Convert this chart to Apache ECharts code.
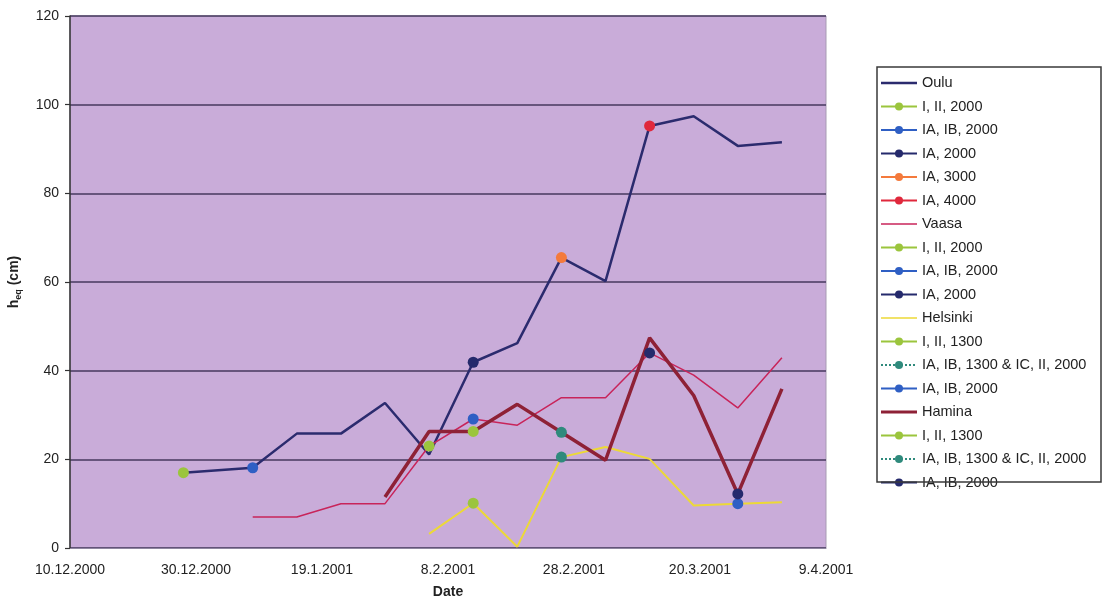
<!DOCTYPE html>
<html>
<head>
<meta charset="utf-8">
<script src="https://cdn.jsdelivr.net/npm/echarts@6/dist/echarts.min.js"></script>
<style>
html,body{margin:0;padding:0;background:#ffffff;}
#c{width:1102px;height:609px;}
</style>
</head>
<body>
<div id="c"></div>
<script>
// ---------- data (dates as d.m.yyyy) ----------
const xTickLabels = ['10.12.2000','30.12.2000','19.1.2001','8.2.2001','28.2.2001','20.3.2001','9.4.2001'];
const yTickValues = [0, 20, 40, 60, 80, 100, 120];

const ouluDates  = ['28.12.2000','8.1.2001','15.1.2001','22.1.2001','29.1.2001','5.2.2001','12.2.2001','19.2.2001','26.2.2001','5.3.2001','12.3.2001','19.3.2001','26.3.2001','2.4.2001'];
const ouluValues = [17.0, 18.1, 25.8, 25.8, 32.7, 21.1, 41.9, 46.2, 65.5, 60.2, 95.2, 97.4, 90.7, 91.5];

const vaasaDates  = ['8.1.2001','15.1.2001','22.1.2001','29.1.2001','5.2.2001','12.2.2001','19.2.2001','26.2.2001','5.3.2001','12.3.2001','19.3.2001','26.3.2001','2.4.2001'];
const vaasaValues = [7.0, 7.0, 10.0, 10.0, 23.0, 29.1, 27.7, 33.9, 33.9, 44.0, 39.0, 31.6, 42.9];

const helsinkiDates  = ['5.2.2001','12.2.2001','19.2.2001','26.2.2001','5.3.2001','12.3.2001','19.3.2001','26.3.2001','2.4.2001'];
const helsinkiValues = [3.2, 10.1, 0.3, 20.5, 22.8, 20.1, 9.6, 10.0, 10.3];

const haminaDates  = ['29.1.2001','5.2.2001','12.2.2001','19.2.2001','26.2.2001','5.3.2001','12.3.2001','19.3.2001','26.3.2001','2.4.2001'];
const haminaValues = [11.5, 26.3, 26.3, 32.4, 26.1, 19.8, 47.4, 34.4, 12.2, 35.9];

// ship-class observation points
const ouluI_II_2000_Dates   = ['28.12.2000'];  const ouluI_II_2000_Values   = [17.0];
const ouluIA_IB_2000_Dates  = ['8.1.2001'];    const ouluIA_IB_2000_Values  = [18.1];
const ouluIA_2000_Dates     = ['12.2.2001'];   const ouluIA_2000_Values     = [41.9];
const ouluIA_3000_Dates     = ['26.2.2001'];   const ouluIA_3000_Values     = [65.5];
const ouluIA_4000_Dates     = ['12.3.2001'];   const ouluIA_4000_Values     = [95.2];
const vaasaI_II_2000_Dates  = ['5.2.2001'];    const vaasaI_II_2000_Values  = [23.0];
const vaasaIA_IB_2000_Dates = ['12.2.2001'];   const vaasaIA_IB_2000_Values = [29.1];
const vaasaIA_2000_Dates    = ['12.3.2001'];   const vaasaIA_2000_Values    = [44.0];
const helI_II_1300_Dates    = ['12.2.2001'];   const helI_II_1300_Values    = [10.1];
const helMixed_Dates        = ['26.2.2001'];   const helMixed_Values        = [20.5];
const helIA_IB_2000_Dates   = ['26.3.2001'];   const helIA_IB_2000_Values   = [10.0];
const hamI_II_1300_Dates    = ['12.2.2001'];   const hamI_II_1300_Values    = [26.3];
const hamMixed_Dates        = ['26.2.2001'];   const hamMixed_Values        = [26.1];
const hamIA_IB_2000_Dates   = ['26.3.2001'];   const hamIA_IB_2000_Values   = [12.2];

// ---------- helpers ----------
function dayNum(s){
  const p = s.split('.').map(Number);
  return Math.round((Date.UTC(p[2], p[1]-1, p[0]) - Date.UTC(2000, 11, 10)) / 86400000);
}
function pairs(dates, vals){ return dates.map((d,i)=>[dayNum(d), vals[i]]); }

const C = {
  oulu:'#2b2b6e', vaasa:'#c8245a', helsinki:'#ecd936', hamina:'#8e2136',
  green:'#9bc53d', blue:'#2f5fc4', navy:'#252a6c', orange:'#f47a3c', red:'#e0283c', teal:'#2f8a7c'
};

function mainLine(name, dates, vals, color, width){
  return {name:name, type:'line', data:pairs(dates, vals), symbol:'none',
    lineStyle:{color:color, width:width}, itemStyle:{color:color}, z:3, animation:false};
}
function points(name, dates, vals, color, dotted){
  return {name:name, type:'line', data:pairs(dates, vals), symbol:'circle', symbolSize:11, showSymbol:true,
    itemStyle:{color:color}, lineStyle:{color:color, width:1, type: dotted ? 'dotted' : 'solid'}, z:6, animation:false};
}

// names (trailing spaces keep duplicates distinct in the legend)
const series = [
  mainLine('Oulu', ouluDates, ouluValues, C.oulu, 2.5),
  points('I, II, 2000', ouluI_II_2000_Dates, ouluI_II_2000_Values, C.green),
  points('IA, IB, 2000', ouluIA_IB_2000_Dates, ouluIA_IB_2000_Values, C.blue),
  points('IA, 2000', ouluIA_2000_Dates, ouluIA_2000_Values, C.navy),
  points('IA, 3000', ouluIA_3000_Dates, ouluIA_3000_Values, C.orange),
  points('IA, 4000', ouluIA_4000_Dates, ouluIA_4000_Values, C.red),
  mainLine('Vaasa', vaasaDates, vaasaValues, C.vaasa, 1.5),
  points('I, II, 2000 ', vaasaI_II_2000_Dates, vaasaI_II_2000_Values, C.green),
  points('IA, IB, 2000 ', vaasaIA_IB_2000_Dates, vaasaIA_IB_2000_Values, C.blue),
  points('IA, 2000 ', vaasaIA_2000_Dates, vaasaIA_2000_Values, C.navy),
  mainLine('Helsinki', helsinkiDates, helsinkiValues, C.helsinki, 2),
  points('I, II, 1300', helI_II_1300_Dates, helI_II_1300_Values, C.green),
  points('IA, IB, 1300 & IC, II, 2000', helMixed_Dates, helMixed_Values, C.teal, true),
  points('IA, IB, 2000  ', helIA_IB_2000_Dates, helIA_IB_2000_Values, C.blue),
  mainLine('Hamina', haminaDates, haminaValues, C.hamina, 3.5),
  points('I, II, 1300 ', hamI_II_1300_Dates, hamI_II_1300_Values, C.green),
  points('IA, IB, 1300 & IC, II, 2000 ', hamMixed_Dates, hamMixed_Values, C.teal, true),
  points('IA, IB, 2000   ', hamIA_IB_2000_Dates, hamIA_IB_2000_Values, C.navy)
];
const lineIcon = w => 'path://M0,0 L36,0 L36,' + w + ' L0,' + w + ' Z';
const legendData = series.map(s => s.symbol === 'none'
  ? {name:s.name, icon: lineIcon(s.lineStyle.width > 3 ? 3 : (s.lineStyle.width > 2 ? 2.5 : 1.6))}
  : {name:s.name});

const FONT = 'Liberation Sans, Arial, sans-serif';
const option = {
  backgroundColor:'#ffffff',
  animation:false,
  textStyle:{fontFamily:FONT},
  grid:{left:70, right:276, top:16, bottom:61, show:true, backgroundColor:'#c9acd9',
        borderColor:'#a79bb3', borderWidth:1, outerBoundsMode:'none'},
  xAxis:{
    type:'value', min:0, max:120, interval:20,
    name:'Date', nameLocation:'middle', nameGap:37,
    nameTextStyle:{fontFamily:FONT, fontSize:14, fontWeight:'bold', color:'#222'},
    axisLine:{show:true, lineStyle:{color:'#8f86a0', width:1}},
    axisTick:{show:false},
    splitLine:{show:false},
    axisLabel:{fontFamily:FONT, fontSize:14, color:'#222', margin:15,
      formatter: v => xTickLabels[Math.round(v/20)]}
  },
  yAxis:{
    type:'value', min:yTickValues[0], max:yTickValues[yTickValues.length-1], interval:20,
    name:'{h|h}{s|eq}{h| (cm)}', nameLocation:'middle', nameGap:47, nameRotate:90,
    nameTextStyle:{color:'#222', rich:{
      h:{fontFamily:FONT, fontSize:14, fontWeight:'bold', color:'#222'},
      s:{fontFamily:FONT, fontSize:9, fontWeight:'bold', color:'#222', verticalAlign:'bottom', padding:[8,0,0,0]}
    }},
    axisLine:{show:true, lineStyle:{color:'#333', width:1.5}},
    axisTick:{show:true, inside:false, length:5, lineStyle:{color:'#333', width:1.2}},
    splitLine:{show:true, lineStyle:{color:'#46385e', width:1.5}},
    axisLabel:{fontFamily:FONT, fontSize:14, color:'#222', margin:11}
  },
  legend:{
    orient:'vertical', left:880, top:75, padding:0,
    itemWidth:36, itemHeight:10, itemGap:7.5,
    textStyle:{fontFamily:FONT, fontSize:14.5, color:'#222', lineHeight:16},
    formatter: n => n.trim(),
    data: legendData,
    selectedMode:false
  },
  graphic:[{type:'rect', shape:{x:877, y:67, width:224, height:415},
    style:{fill:'none', stroke:'#3a3a3a', lineWidth:1.5}, z:100}],
  series: series
};
const chart = echarts.init(document.getElementById('c'));
chart.setOption(option);
</script>
</body>
</html>
